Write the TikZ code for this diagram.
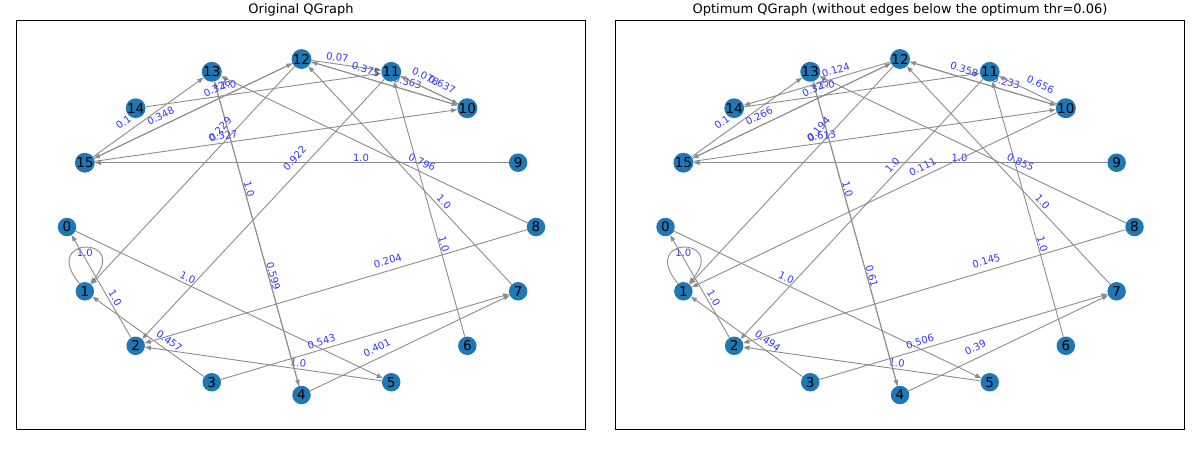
\documentclass[tikz,border=0pt]{standalone}
\usepackage{fontspec}
\setmainfont{DejaVu Sans}
\usetikzlibrary{arrows.meta}
\pgfdeclarelayer{bg}
\pgfsetlayers{bg,main}
\definecolor{nodeblue}{HTML}{1F77B4}
\definecolor{labblue}{HTML}{3535FF}
\definecolor{edgegray}{HTML}{8C8C8C}
\begin{document}
\begin{tikzpicture}[x=1pt,y=-1pt,
 vert/.style={circle,fill=nodeblue,minimum size=18.5pt,inner sep=0pt,font=\fontsize{13.5}{15}\selectfont},
 edge/.style={draw=edgegray,line width=0.9pt,-{Triangle[length=6pt,width=4.5pt]}},
 lab/.style={sloped,pos=0.357,above=#1,inner sep=0.5pt,text=labblue,font=\fontsize{10}{12}\selectfont},
 lab/.default=1.5pt,
 looplab/.style={pos=0.5,yshift=-5pt,inner sep=0.5pt,text=labblue,font=\fontsize{10}{12}\selectfont},
 ttl/.style={font=\fontsize{13}{15}\selectfont},
 frame/.style={draw=black,line width=0.8pt}]
\useasboundingbox (0,0) rectangle (1200,448);
\node[ttl] (t1) at (301,10) {Original QGraph};
\node[ttl] (t2) at (900,10) {Optimum QGraph (without edges below the optimum thr=0.06)};
\draw[frame] (16.5,20) rectangle (585.5,429);
\draw[frame] (615,20) rectangle (1184,429);
\foreach \k in {0,...,15} {
 \node[vert] (a\k) at ({301.5+234.5*cos(180+22.5*\k)}, {227-168*sin(180+22.5*\k)}) {\k};
 \node[vert] (b\k) at ({900+234.5*cos(180+22.5*\k)}, {227-168*sin(180+22.5*\k)}) {\k};
}
\begin{pgfonlayer}{bg}
% left graph
\draw[edge] (a1.125) .. controls +(-40,-48) and +(40,-48) .. node[looplab]{1.0} (a1.55);
\draw[edge] (a2) -- node[lab]{1.0} (a0);
\draw[edge] (a3) -- node[lab=4pt]{0.457} (a1);
\draw[edge] (a8) -- node[lab=5pt]{0.204} (a2);
\draw[edge] (a9) -- node[lab=0pt]{1.0} (a15);
\draw[edge] (a0) -- node[lab]{1.0} (a5);
\draw[edge] (a5) -- node[lab]{1.0} (a2);
\draw[edge] (a3) -- node[lab=3pt]{0.543} (a7);
\draw[edge] (a4) -- node[lab=5.5pt]{0.401} (a7);
\draw[edge] (a6) -- node[lab=0pt]{1.0} (a11);
\draw[edge] (a7) -- node[lab=2pt]{1.0} (a12);
\draw[edge] (a8) -- node[lab=4.5pt]{0.796} (a13);
\draw[edge] (a13) -- node[lab=0pt]{1.0} (a4);
\draw[edge] (a4) -- node[lab=0pt]{0.599} (a13);
\draw[edge] (a11) -- node[lab=7pt,pos=0.335]{0.922} (a2);
\draw[edge] (a12) -- node[lab=7pt,pos=0.325]{0.229} (a1);
\draw[edge] (a15) -- node[lab=2.5pt]{0.327} (a10);
\draw[edge] (a14) -- node[lab=5.5pt]{1.0} (a11);
\draw[edge] (a15) -- node[lab=5pt]{0.348} (a12);
\draw[edge] (a12) -- node[lab=5.5pt]{0.326} (a15);
\draw[edge] (a15) -- node[lab=5.5pt,pos=0.33]{0.1} (a13);
\draw[edge] (a12) -- node[lab=2pt]{0.07} (a11);
\draw[edge] (a12) -- node[lab=3.5pt]{0.375} (a10);
\draw[edge] (a10) -- node[lab=3.5pt]{0.363} (a12);
\draw[edge] (a11) -- node[lab=6pt]{0.078} (a10);
\draw[edge] (a10) -- node[lab=5.5pt]{0.637} (a11);
% right graph
\draw[edge] (b1.125) .. controls +(-40,-48) and +(40,-48) .. node[looplab]{1.0} (b1.55);
\draw[edge] (b2) -- node[lab]{1.0} (b0);
\draw[edge] (b3) -- node[lab=4pt]{0.494} (b1);
\draw[edge] (b8) -- node[lab=5pt]{0.145} (b2);
\draw[edge] (b9) -- node[lab=0pt]{1.0} (b15);
\draw[edge] (b0) -- node[lab]{1.0} (b5);
\draw[edge] (b5) -- node[lab]{1.0} (b2);
\draw[edge] (b3) -- node[lab=3pt]{0.506} (b7);
\draw[edge] (b4) -- node[lab=5.5pt]{0.39} (b7);
\draw[edge] (b6) -- node[lab=0pt]{1.0} (b11);
\draw[edge] (b7) -- node[lab=2pt]{1.0} (b12);
\draw[edge] (b8) -- node[lab=4.5pt]{0.855} (b13);
\draw[edge] (b13) -- node[lab=0pt]{1.0} (b4);
\draw[edge] (b4) -- node[lab=0pt]{0.61} (b13);
\draw[edge] (b11) -- node[lab=3pt,pos=0.35]{1.0} (b2);
\draw[edge] (b12) -- node[lab=7pt,pos=0.325]{0.194} (b1);
\draw[edge] (b15) -- node[lab=2.5pt]{0.613} (b10);
\draw[edge] (b14) -- node[lab=5.5pt]{1.0} (b11);
\draw[edge] (b15) -- node[lab=5pt]{0.266} (b12);
\draw[edge] (b12) -- node[lab=5.5pt]{0.325} (b15);
\draw[edge] (b15) -- node[lab=5.5pt,pos=0.33]{0.1} (b13);
\draw[edge] (b12) -- node[lab=3pt]{0.124} (b14);
\draw[edge] (b12) -- node[lab=3.5pt]{0.358} (b10);
\draw[edge] (b10) -- node[lab=3.5pt]{0.233} (b12);
\draw[edge] (b10) -- node[lab=5.5pt]{0.656} (b11);
\draw[edge] (b10) -- node[lab=4pt]{0.111} (b1);
\end{pgfonlayer}
\end{tikzpicture}
\end{document}
